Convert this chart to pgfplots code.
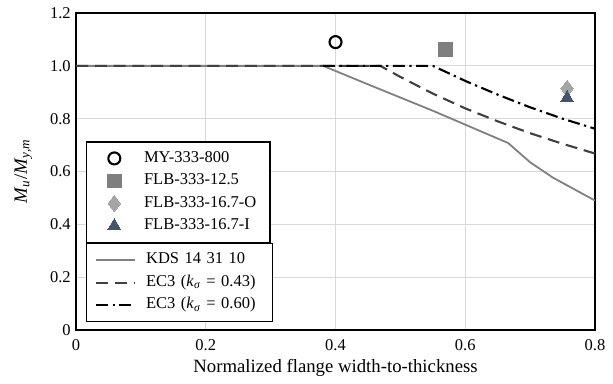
\documentclass[border=0pt]{standalone}
\usepackage{pgfplots}
\pgfplotsset{compat=1.18}
\usepackage{fontspec}
\setmainfont{Liberation Serif}
\definecolor{sqgray}{HTML}{7F7F7F}
\definecolor{diagray}{HTML}{A5A5A5}
\definecolor{triblue}{HTML}{44546A}
\definecolor{kdsgray}{HTML}{808080}
\definecolor{ecdark}{HTML}{404040}
\definecolor{gridgray}{HTML}{D9D9D9}
\pgfplotsset{
  common/.style={
    name=#1,
    at={(0,0)}, anchor=south west,
    width=346pt, height=211.3pt, scale only axis,
    xmin=0, xmax=0.8, ymin=0, ymax=1.2,
    legend cell align=left,
    legend style={
      font=\fontsize{11}{13}\selectfont,
      draw=black, line width=0.8pt, fill=white,
      inner xsep=6pt, inner ysep=4.5pt,
      row sep=2pt,
      nodes={inner sep=1pt, text width=77pt, text height=8pt, text depth=3pt, line width=0.4pt},
      /tikz/every odd column/.append style={column sep=6pt},
    },
    legend image code/.code={\path[draw=none,fill=none] (0cm,0cm) -- (0.9cm,0cm);\draw[mark repeat=2,mark phase=2,##1] plot coordinates {(0cm,0cm) (0.45cm,0cm) (0.9cm,0cm)};},
  }
}
\begin{document}
\begin{tikzpicture}
\begin{axis}[common=ax1,
  axis line style={black, line width=1pt},
  grid=major, major grid style={gridgray, line width=0.8pt},
  xtick={0,0.2,0.4,0.6,0.8}, xticklabels={0,0.2,0.4,0.6,0.8},
  ytick={0,0.2,0.4,0.6,0.8,1.0,1.2}, yticklabels={0,0.2,0.4,0.6,0.8,1.0,1.2},
  tick style={draw=none},
  ticklabel style={font=\fontsize{11}{13}\selectfont},
  xticklabel style={yshift=-3pt},
  xlabel={Normalized flange width-to-thickness},
  ylabel={\textit{M}\textsubscript{\textit{u}}/\textit{M}\textsubscript{\textit{y,m}}},
  label style={font=\fontsize{12.5}{14}\selectfont},
  xlabel style={yshift=1pt},
  ylabel style={yshift=5pt},
  legend style={at={(0.0183,0.2744)}, anchor=south west},
]
\addplot[only marks, mark=o, mark size=4pt, black, line width=1.4pt] coordinates {(0.400,1.09)};
\addlegendentry{MY-333-800}
\addplot[only marks, mark=square*, mark size=4.6pt, sqgray, line width=0pt] coordinates {(0.570,1.062)};
\addlegendentry{FLB-333-12.5}
\addplot[only marks, mark=diamond*, mark size=5.5pt, diagray, line width=0pt] coordinates {(0.757,0.915)};
\addlegendentry{FLB-333-16.7-O}
\addplot[only marks, mark=triangle*, mark size=5pt, triblue, line width=0pt] coordinates {(0.757,0.878)};
\addlegendentry{FLB-333-16.7-I}
\end{axis}
\begin{axis}[common=ax2,
  hide axis,
  legend style={at={(0.0183,0.2744)}, anchor=north west},
]
\addplot[kdsgray, line width=1.2pt] coordinates {
(0,1.0) (0.381,1.0) (0.45,0.93) (0.55,0.83) (0.666,0.708) (0.70,0.635) (0.735,0.577) (0.8,0.49)};
\addlegendentry{KDS 14 31 10}
\addplot[ecdark, line width=1.4pt, dash pattern=on 8pt off 4.5pt] coordinates {
(0,1.0) (0.469,1.0) (0.50,0.958) (0.55,0.895) (0.60,0.839) (0.65,0.790) (0.70,0.745) (0.75,0.705) (0.80,0.668)};
\addlegendentry{EC3 (\textit{k}\textsubscript{\textit{σ}} = 0.43)}
\addplot[black, line width=1.4pt, dash pattern=on 8pt off 3pt on 1.5pt off 3pt] coordinates {
(0.381,1.0) (0.55,1.0) (0.60,0.943) (0.65,0.891) (0.70,0.843) (0.75,0.800) (0.80,0.762)};
\addlegendentry{EC3 (\textit{k}\textsubscript{\textit{σ}} = 0.60)}
\end{axis}
\path ([shift={(-50.7pt,-36pt)}]ax1.south west) rectangle ([shift={(12pt,8.7pt)}]ax1.north east);
\end{tikzpicture}
\end{document}
